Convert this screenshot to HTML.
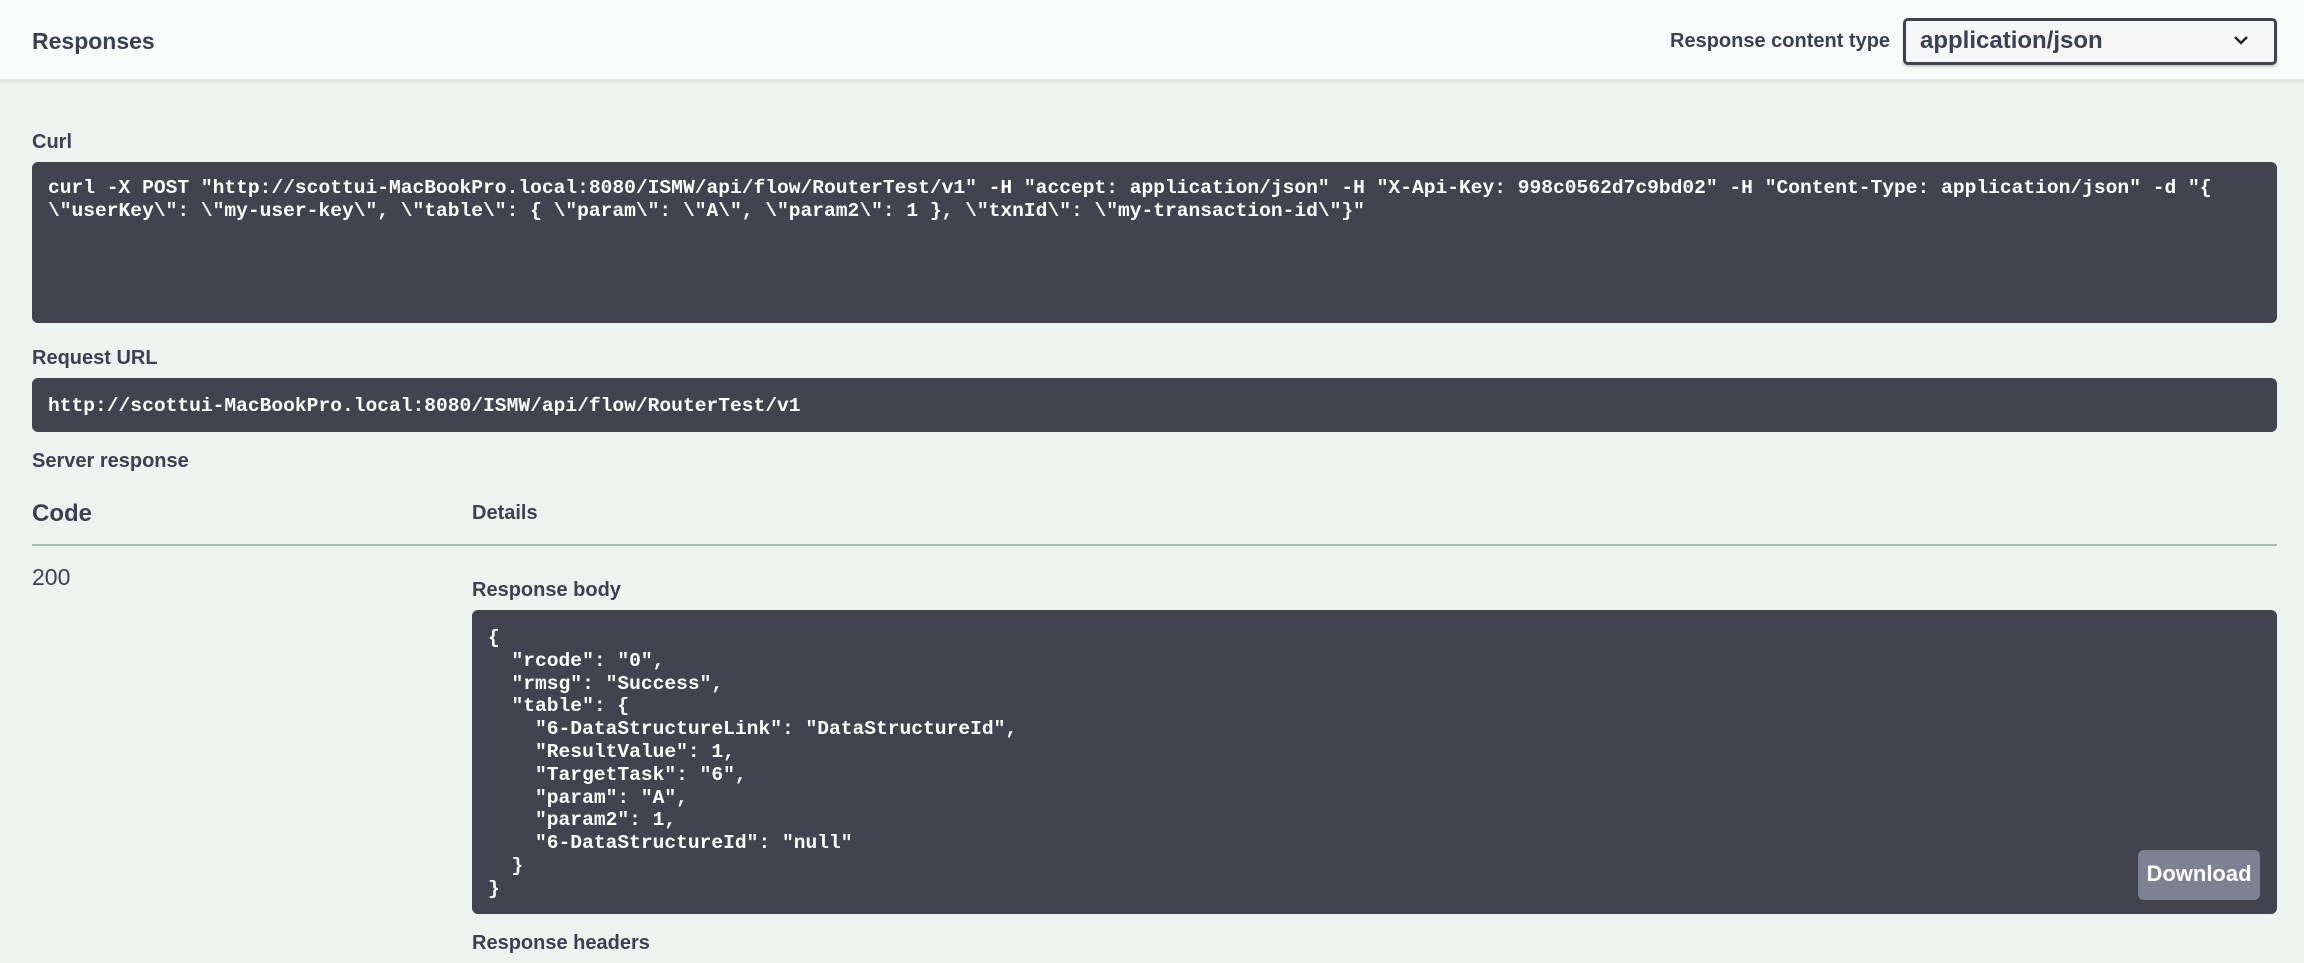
<!DOCTYPE html>
<html><head><meta charset="utf-8"><style>
*{margin:0;padding:0;box-sizing:border-box}
body{width:2304px;height:963px;overflow:hidden;background:#ebf4ef;font-family:"Liberation Sans",sans-serif;color:#3b4151;position:relative}
.a{position:absolute;white-space:pre}
.hdr{position:absolute;left:0;top:0;width:2304px;height:81px;background:#fafcfb;border-bottom:2px solid #dfe5e2;box-shadow:0 1px 2px rgba(0,0,0,.08)}
.lbl{font-size:20px;font-weight:bold}
.box{position:absolute;background:#41444e;border-radius:6px}
.mono{font-family:"Liberation Mono",monospace;font-weight:bold;color:#fff;font-size:19.6px;line-height:22.8px}
</style></head><body>
<div class="hdr"></div>
<div class="a" style="left:32px;top:28px;font-size:23px;font-weight:bold">Responses</div>
<div class="a lbl" style="left:1670px;top:30px;width:216px;text-align:right">Response content type</div>
<div class="a" style="left:1903px;top:18px;width:374px;height:47px;border:3px solid #41444e;border-radius:5px;background:#f7f7f7;box-shadow:0 2px 2px rgba(0,0,0,.2)"></div>
<div class="a" style="left:1920px;top:27px;font-size:24px;font-weight:bold;color:#3b4151">application/json</div>
<svg class="a" style="left:2232px;top:33px" width="18" height="14"><path d="M3 4 L9 10 L15 4" fill="none" stroke="#222" stroke-width="2.5"/></svg>

<div class="a lbl" style="left:32px;top:131px">Curl</div>
<div class="box" style="left:32px;top:162px;width:2245px;height:161px"></div>
<div class="a mono" style="left:48px;top:177px">curl -X POST "http://scottui-MacBookPro.local:8080/ISMW/api/flow/RouterTest/v1" -H "accept: application/json" -H "X-Api-Key: 998c0562d7c9bd02" -H "Content-Type: application/json" -d "{
\"userKey\": \"my-user-key\", \"table\": { \"param\": \"A\", \"param2\": 1 }, \"txnId\": \"my-transaction-id\"}"</div>

<div class="a lbl" style="left:32px;top:347px">Request URL</div>
<div class="box" style="left:32px;top:378px;width:2245px;height:54px"></div>
<div class="a mono" style="left:48px;top:395px">http://scottui-MacBookPro.local:8080/ISMW/api/flow/RouterTest/v1</div>

<div class="a lbl" style="left:32px;top:450px">Server response</div>
<div class="a" style="left:32px;top:500px;font-size:24px;font-weight:bold">Code</div>
<div class="a lbl" style="left:472px;top:502px">Details</div>
<div class="a" style="left:32px;top:544px;width:2245px;height:2px;background:#a9bcb4"></div>
<div class="a" style="left:32px;top:564px;font-size:23px">200</div>
<div class="a lbl" style="left:472px;top:579px">Response body</div>
<div class="box" style="left:472px;top:610px;width:1805px;height:304px"></div>
<div class="a mono" style="left:488px;top:627px">{
  "rcode": "0",
  "rmsg": "Success",
  "table": {
    "6-DataStructureLink": "DataStructureId",
    "ResultValue": 1,
    "TargetTask": "6",
    "param": "A",
    "param2": 1,
    "6-DataStructureId": "null"
  }
}</div>
<div class="a" style="left:2138px;top:850px;width:122px;height:50px;background:#7d8293;border-radius:6px;color:#fff;font-weight:bold;font-size:22px;text-align:center;line-height:48px">Download</div>
<div class="a lbl" style="left:472px;top:932px">Response headers</div>
</body></html>
